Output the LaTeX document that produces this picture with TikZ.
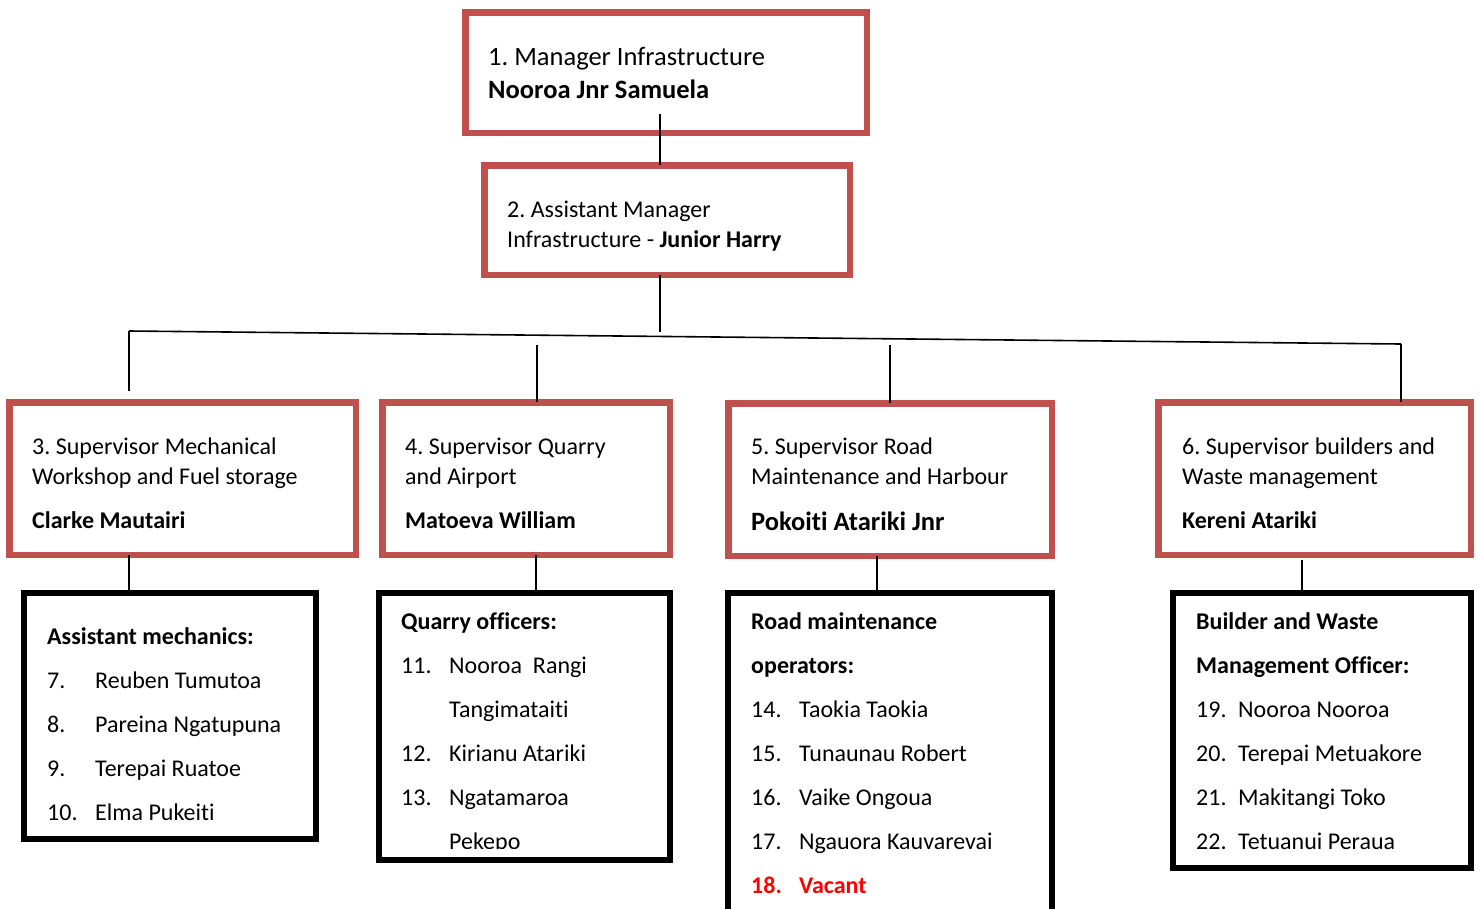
\documentclass[tikz,border=0pt]{standalone}
\usepackage{fontspec}
\setmainfont{Carlito}[Ligatures={NoCommon}]
\usetikzlibrary{calc}
\definecolor{boxred}{HTML}{C0504D}
\definecolor{vacred}{HTML}{FF0000}
\frenchspacing
\tikzset{
  redbox/.style 2 args={draw=boxred, line width=6.5pt, rectangle, inner sep=0pt,
    minimum width=#1pt, minimum height=#2pt, outer sep=0pt},
  staffbox/.style 2 args={draw=black, line width=6pt, rectangle, inner sep=0pt,
    minimum width=#1pt, minimum height=#2pt, outer sep=0pt},
  conn/.style={draw=black, line width=1.6pt},
  lbl/.style={anchor=base west, inner sep=0pt, font=\fontsize{24}{30}\selectfont},
  lblbig/.style={anchor=base west, inner sep=0pt, font=\fontsize{26.5}{33}\selectfont},
  vac/.style={lbl, text=vacred, font=\fontsize{24}{30}\selectfont\bfseries}
}
\begin{document}
\begin{tikzpicture}[x=1pt,y=-1pt]
\useasboundingbox (0,0) rectangle (1480,908);
\fill[white] (0,0) rectangle (1480,908);
\clip (0,0) rectangle (1480,908);

% management boxes
\node[redbox={401.5}{120.5}] (m1) at (666,72.5) {};
\node[redbox={365.5}{109.5}] (m2) at (667,220) {};

% supervisor boxes
\node[redbox={346.5}{152.5}] (s3) at (182.5,478.5) {};
\node[redbox={287.5}{152.5}] (s4) at (526,478.5) {};
\node[redbox={323.5}{152.5}] (s5) at (890,479.5) {};
\node[redbox={312.5}{152.5}] (s6) at (1314.5,478.5) {};

% staff boxes
\node[staffbox={292}{246}] (t3) at (170,716) {};
\node[staffbox={291}{267}] (t4) at (524.5,726.5) {};
\node[staffbox={324}{334}] (t5) at (890,760) {};
\node[staffbox={298}{275}] (t6) at (1322,730.5) {};

% bus line
\coordinate (busL) at (129,331);
\coordinate (busR) at (1401,344);
\coordinate (hub) at (660,332);
\coordinate (d4) at (537,345);
\coordinate (d5) at (890,345);

% connectors
\draw[conn] (m1.south -| hub) ++(0,-19) -- (m2.north -| hub);
\draw[conn] (m2.south -| hub) -- (hub);
\draw[conn] (busL) -- (busR);
\draw[conn] (busL) -- ($(s3.north -| busL)+(0,-11)$);
\draw[conn] (busR) -- (s6.north -| busR);
\draw[conn] (d4) -- (s4.north -| d4);
\draw[conn] (d5) -- (s5.north -| d5);

\draw[conn] (s3.south -| busL) -- (t3.north -| busL);
\draw[conn] (s4.south -| 536,0) -- (t4.north -| 536,0);
\draw[conn] (s5.south -| 877,0) -- (t5.north -| 877,0);
\draw[conn] ($(s6.south -| 1302,0)+(0,5)$) -- (t6.north -| 1302,0);

% management texts
\node[lblbig] (m1a) at (488,65) {1. Manager Infrastructure};
\node[lblbig] (m1b) at (488,98) {\bfseries Nooroa Jnr Samuela};
\node[lbl] (m2a) at (507,217) {2. Assistant Manager};
\node[lbl] (m2b) at (507,247) {Infrastructure - \textbf{Junior Harry}};

% supervisor texts
\node[lbl] (s3a) at (32,454) {3. Supervisor Mechanical};
\node[lbl] (s3b) at (32,484) {Workshop and Fuel storage};
\node[lbl] (s3c) at (32,528) {\bfseries Clarke Mautairi};

\node[lbl] (s4a) at (405,454) {4. Supervisor Quarry};
\node[lbl] (s4b) at (405,484) {and Airport};
\node[lbl] (s4c) at (405,528) {\bfseries Matoeva William};

\node[lbl] (s5a) at (751,454) {5. Supervisor Road};
\node[lbl] (s5b) at (751,484) {Maintenance and Harbour};
\node[lblbig] (s5c) at (751,530) {\bfseries Pokoiti Atariki Jnr};

\node[lbl] (s6a) at (1182,454) {6. Supervisor builders and};
\node[lbl] (s6b) at (1182,484) {Waste management};
\node[lbl] (s6c) at (1182,528) {\bfseries Kereni Atariki};

% assistant mechanics
\node[lbl] (h3) at (47,644) {\bfseries Assistant mechanics:};
\node[lbl] (n7) at (47,688) {7.};   \node[lbl] (p7) at (95,688) {Reuben Tumutoa};
\node[lbl] (n8) at (47,732) {8.};   \node[lbl] (p8) at (95,732) {Pareina Ngatupuna};
\node[lbl] (n9) at (47,776) {9.};   \node[lbl] (p9) at (95,776) {Terepai Ruatoe};
\node[lbl] (n10) at (47,820) {10.}; \node[lbl] (p10) at (95,820) {Elma Pukeiti};

% quarry officers
\node[lbl] (h4) at (401,629) {\bfseries Quarry officers:};
\node[lbl] (n11) at (401,673) {11.}; \node[lbl] (p11) at (449,673) {Nooroa\ \ Rangi};
\node[lbl] (p11b) at (449,717) {Tangimataiti};
\node[lbl] (n12) at (401,761) {12.}; \node[lbl] (p12) at (449,761) {Kirianu Atariki};
\node[lbl] (n13) at (401,805) {13.}; \node[lbl] (p13) at (449,805) {Ngatamaroa};
\begin{scope}
\clip (380,594) rectangle (669,848);
\node[lbl] (p13b) at (449,849) {Pekepo};
\end{scope}

% road maintenance operators
\node[lbl] (h5a) at (751,629) {\bfseries Road maintenance};
\node[lbl] (h5b) at (751,673) {\bfseries operators:};
\node[lbl] (n14) at (751,717) {14.}; \node[lbl] (p14) at (799,717) {Taokia Taokia};
\node[lbl] (n15) at (751,761) {15.}; \node[lbl] (p15) at (799,761) {Tunaunau Robert};
\node[lbl] (n16) at (751,805) {16.}; \node[lbl] (p16) at (799,805) {Vaike Ongoua};
\node[lbl] (n17) at (751,849) {17.}; \node[lbl] (p17) at (799,849) {Ngauora Kauvarevai};
\node[vac] (n18) at (751,893) {18.}; \node[vac] (p18) at (799,893) {Vacant};

% builder and waste officers
\node[lbl] (h6a) at (1196,629) {\bfseries Builder and Waste};
\node[lbl] (h6b) at (1196,673) {\bfseries Management Officer:};
\node[lbl] (n19) at (1196,717) {19.}; \node[lbl] (p19) at (1238,717) {Nooroa Nooroa};
\node[lbl] (n20) at (1196,761) {20.}; \node[lbl] (p20) at (1238,761) {Terepai Metuakore};
\node[lbl] (n21) at (1196,805) {21.}; \node[lbl] (p21) at (1238,805) {Makitangi Toko};
\node[lbl] (n22) at (1196,849) {22.}; \node[lbl] (p22) at (1238,849) {Tetuanui Peraua};
\end{tikzpicture}
\end{document}
